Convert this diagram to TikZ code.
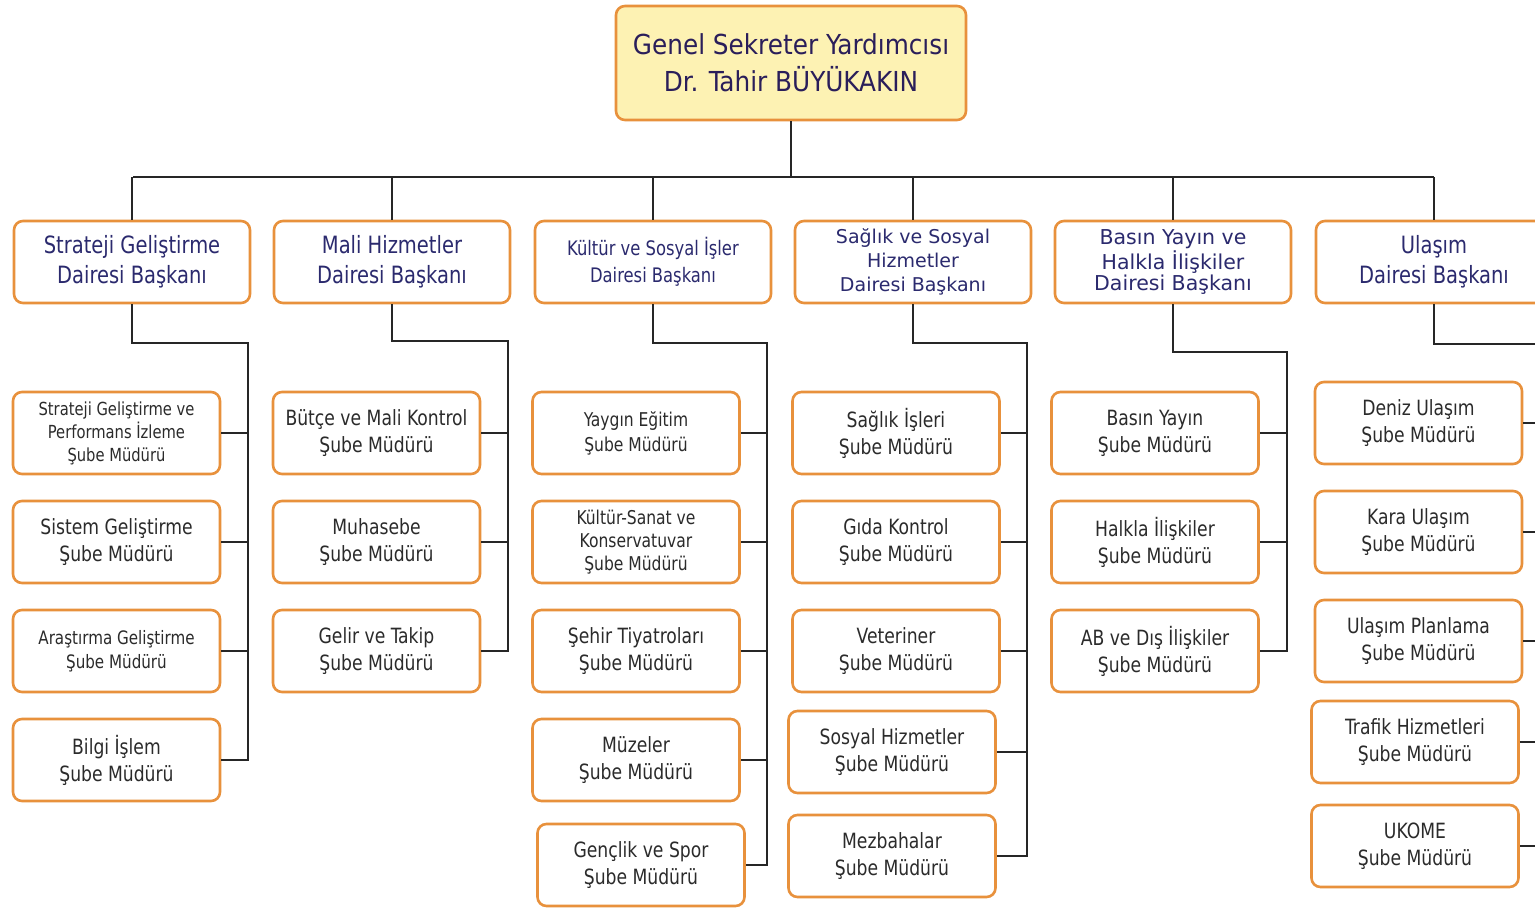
\documentclass[tikz,border=0pt]{standalone}
\usepackage{fontspec}
\setmainfont{DejaVu Sans Condensed}
\newfontfamily\nf{DejaVu Sans Condensed}[FakeStretch=0.91]
\newfontfamily\widefont{DejaVu Sans}
\definecolor{boxline}{HTML}{E8913C}
\definecolor{navy}{HTML}{2B2A6E}
\definecolor{toptext}{HTML}{2A1E5A}
\definecolor{subtext}{HTML}{2B2B2B}
\definecolor{topfill}{HTML}{FDF2B3}
\newcommand{\fs}[2]{\fontsize{#1}{#2}\selectfont}
\begin{document}
\begin{tikzpicture}[x=1pt,y=-1pt,
  box/.style={draw=boxline, line width=2.6pt, rounded corners=9pt, fill=white,
    align=center, inner sep=0pt},
  topbox/.style={box, fill=topfill, text=toptext, minimum width=350pt, minimum height=114pt,
    font=\fs{27.5}{37}},
  head/.style={box, text=navy, minimum width=236pt, minimum height=82pt},
  sub/.style={box, text=subtext, minimum width=207pt, minimum height=82pt, font=\nf\fs{21}{27}},
  conn/.style={draw=black!85, line width=2.2pt},
  big/.style={font=\nf\fs{23.8}{30}},
  mid/.style={font=\nf\fs{20}{27}},
  vsans/.style={font=\widefont\fs{19}{24}},
  vsmall/.style={font=\widefont\fs{20.5}{21}},
  small/.style={font=\nf\fs{18.5}{24}},
  yeg/.style={font=\nf\fs{19}{25}},
  tiny/.style={font=\nf\fs{18}{23}},
  tinyb/.style={font=\nf\fs{19}{23}}]
\useasboundingbox (0,0) rectangle (1535,908);
\fill[white] (0,0) rectangle (1535,908);

% top
\node[topbox] (top) at (791,63) {\raisebox{-2pt}{Genel Sekreter Yardımcısı}\\\raisebox{-2pt}{Dr. Tahir BÜYÜKAKIN}};

% headers
\node[head,big]    (h1) at (132,262)  {Strateji Geliştirme\\Dairesi Başkanı};
\node[head,big]    (h2) at (392,262)  {Mali Hizmetler\\Dairesi Başkanı};
\node[head,mid]    (h3) at (653,262)  {Kültür ve Sosyal İşler\\Dairesi Başkanı};
\node[head,vsans]  (h4) at (913,262)  {Sağlık ve Sosyal\\Hizmetler\\Dairesi Başkanı};
\node[head,vsmall] (h5) at (1173,262) {Basın Yayın ve\\Halkla İlişkiler\\Dairesi Başkanı};
\node[head,big]    (h6) at (1434,262) {Ulaşım\\Dairesi Başkanı};

% bus
\coordinate (busL) at (133,177);
\coordinate (busR) at (1434,177);
\draw[conn] (busL) -- (busR);
\draw[conn] (top.south) -- (top.south |- busL);
\foreach \h in {h1,h2,h3,h4,h5,h6}
  \draw[conn] (\h.north) -- (\h.north |- busL);

% column 1
\node[sub,tiny] (c11) at (116.5,433) {Strateji Geliştirme ve\\Performans İzleme\\Şube Müdürü};
\node[sub] (c12) at (116.5,542) {Sistem Geliştirme\\Şube Müdürü};
\node[sub,small] (c13) at (116.5,651) {Araştırma Geliştirme\\Şube Müdürü};
\node[sub] (c14) at (116.5,760) {Bilgi İşlem\\Şube Müdürü};
\coordinate (s1) at (248,343);
\draw[conn] (h1.south) |- (s1) |- (c14.east);
\foreach \c in {c11,c12,c13} \draw[conn] (\c.east) -- (\c.east -| s1);

% column 2
\node[sub] (c21) at (376.5,433) {Bütçe ve Mali Kontrol\\Şube Müdürü};
\node[sub] (c22) at (376.5,542) {Muhasebe\\Şube Müdürü};
\node[sub] (c23) at (376.5,651) {Gelir ve Takip\\Şube Müdürü};
\coordinate (s2) at (508,341);
\draw[conn] (h2.south) |- (s2) |- (c23.east);
\foreach \c in {c21,c22} \draw[conn] (\c.east) -- (\c.east -| s2);

% column 3
\node[sub,yeg] (c31) at (636,433) {Yaygın Eğitim\\Şube Müdürü};
\node[sub,tinyb] (c32) at (636,542) {Kültür-Sanat ve\\Konservatuvar\\Şube Müdürü};
\node[sub] (c33) at (636,651) {Şehir Tiyatroları\\Şube Müdürü};
\node[sub] (c34) at (636,760) {Müzeler\\Şube Müdürü};
\node[sub] (c35) at (641,865) {Gençlik ve Spor\\Şube Müdürü};
\coordinate (s3) at (767,343);
\draw[conn] (h3.south) |- (s3) |- (c35.east);
\foreach \c in {c31,c32,c33,c34} \draw[conn] (\c.east) -- (\c.east -| s3);

% column 4
\node[sub] (c41) at (896,433) {Sağlık İşleri\\Şube Müdürü};
\node[sub] (c42) at (896,542) {Gıda Kontrol\\Şube Müdürü};
\node[sub] (c43) at (896,651) {Veteriner\\Şube Müdürü};
\node[sub] (c44) at (892,752) {Sosyal Hizmetler\\Şube Müdürü};
\node[sub] (c45) at (892,856) {Mezbahalar\\Şube Müdürü};
\coordinate (s4) at (1027,343);
\draw[conn] (h4.south) |- (s4) |- (c45.east);
\foreach \c in {c41,c42,c43,c44} \draw[conn] (\c.east) -- (\c.east -| s4);

% column 5
\node[sub] (c51) at (1155,433) {Basın Yayın\\Şube Müdürü};
\node[sub] (c52) at (1155,542) {Halkla İlişkiler\\Şube Müdürü};
\node[sub] (c53) at (1155,651) {AB ve Dış İlişkiler\\Şube Müdürü};
\coordinate (s5) at (1287,352);
\draw[conn] (h5.south) |- (s5) |- (c53.east);
\foreach \c in {c51,c52} \draw[conn] (\c.east) -- (\c.east -| s5);

% column 6
\node[sub] (c61) at (1418.5,423) {Deniz Ulaşım\\Şube Müdürü};
\node[sub] (c62) at (1418.5,532) {Kara Ulaşım\\Şube Müdürü};
\node[sub] (c63) at (1418.5,641) {Ulaşım Planlama\\Şube Müdürü};
\node[sub] (c64) at (1415,742) {Trafik Hizmetleri\\Şube Müdürü};
\node[sub] (c65) at (1415,846) {UKOME\\Şube Müdürü};
\coordinate (s6) at (1548,344);
\draw[conn] (h6.south) |- (s6) |- (c65.east);
\foreach \c in {c61,c62,c63,c64} \draw[conn] (\c.east) -- (\c.east -| s6);
\end{tikzpicture}
\end{document}
